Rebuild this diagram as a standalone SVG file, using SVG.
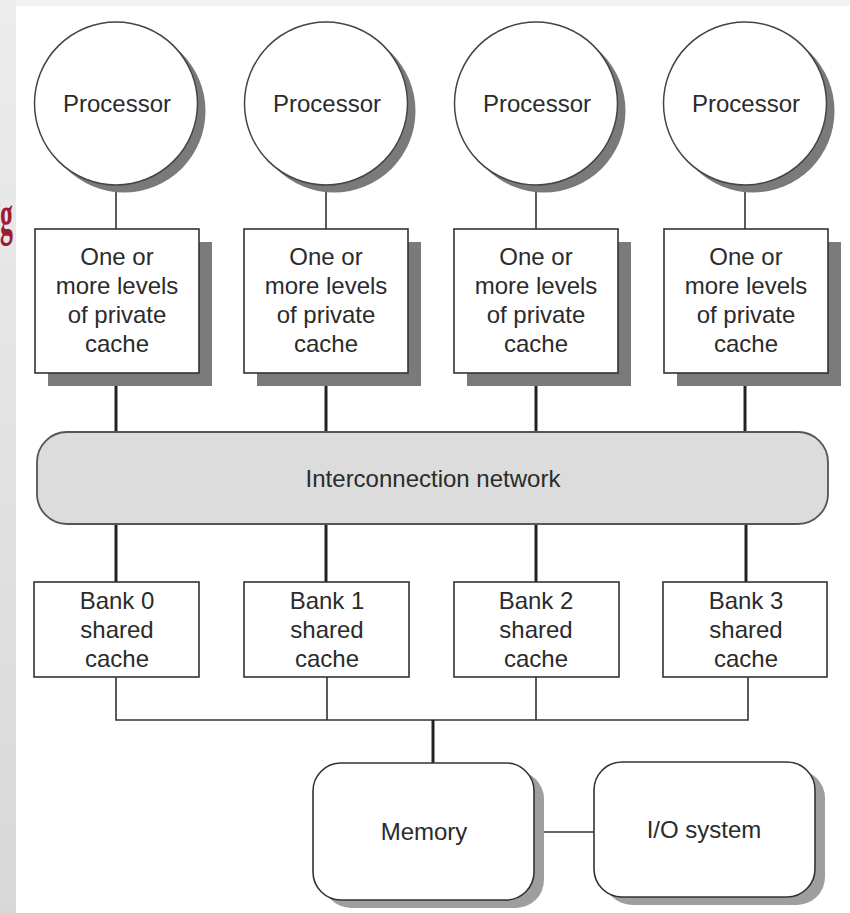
<svg xmlns="http://www.w3.org/2000/svg" width="850" height="913" viewBox="0 0 850 913">
  <defs>
    <linearGradient id="sideGrad" x1="0" y1="0" x2="0" y2="1">
      <stop offset="0" stop-color="#ececec"/>
      <stop offset="1" stop-color="#d8d8d8"/>
    </linearGradient>
  </defs>
  <style>
    .lbl { font-family: "Liberation Sans", Arial, Helvetica, sans-serif; font-size: 24px; fill: #2b2b2b; text-anchor: middle; }
    .box { fill: #ffffff; stroke: #333333; stroke-width: 1.6; }
    .circ { fill: #ffffff; stroke: #444444; stroke-width: 1.5; }
    .shadow-dark { fill: #7a7a7a; }
    .shadow-light { fill: #9e9e9e; }
    .net { fill: #dcdcdc; stroke: #555555; stroke-width: 1.8; }
    .thick { stroke: #222222; stroke-width: 3; fill: none; }
    .thin { stroke: #333333; stroke-width: 1.6; fill: none; }
  </style>

  <!-- page background -->
  <rect x="0" y="0" width="850" height="913" fill="#ffffff"/>
  <rect x="0" y="0" width="850" height="6" fill="#f2f2f2"/>
  <rect x="0" y="0" width="16" height="913" fill="url(#sideGrad)"/>
  <text transform="translate(0 234) scale(0.46 1)" x="0" y="0" font-family="Liberation Serif, Times New Roman, serif" font-size="56" font-weight="bold" fill="#9e1b32">g</text>

  <!-- connectors -->
  <g id="connectors">
    <!-- processor to private cache -->
    <line class="thin" x1="116" y1="185" x2="116" y2="229"/>
    <line class="thin" x1="326" y1="185" x2="326" y2="229"/>
    <line class="thin" x1="536" y1="185" x2="536" y2="229"/>
    <line class="thin" x1="745" y1="185" x2="745" y2="229"/>
    <!-- private cache to interconnection network -->
    <line class="thick" x1="116" y1="373" x2="116" y2="432"/>
    <line class="thick" x1="326" y1="373" x2="326" y2="432"/>
    <line class="thick" x1="536" y1="373" x2="536" y2="432"/>
    <line class="thick" x1="745" y1="373" x2="745" y2="432"/>
    <!-- interconnection network to shared cache banks -->
    <line class="thick" x1="116" y1="524" x2="116" y2="582"/>
    <line class="thick" x1="326" y1="524" x2="326" y2="582"/>
    <line class="thick" x1="536" y1="524" x2="536" y2="582"/>
    <line class="thick" x1="746" y1="524" x2="746" y2="582"/>
    <!-- banks to memory bus -->
    <path class="thin" d="M116 677 V720 H748 V677 M327 677 V720 M536 677 V720"/>
    <line class="thick" x1="433" y1="720" x2="433" y2="763"/>
    <!-- memory to I/O -->
    <line class="thin" x1="534" y1="832" x2="594" y2="832"/>
  </g>

  <!-- processors -->
  <g id="proc0">
    <circle class="shadow-dark" cx="124" cy="111" r="81.5"/>
    <circle class="circ" cx="116" cy="103.5" r="81.5"/>
    <text class="lbl" x="117" y="112">Processor</text>
  </g>
  <g id="proc1">
    <circle class="shadow-dark" cx="334" cy="111" r="81.5"/>
    <circle class="circ" cx="326" cy="103.5" r="81.5"/>
    <text class="lbl" x="327" y="112">Processor</text>
  </g>
  <g id="proc2">
    <circle class="shadow-dark" cx="544" cy="111" r="81.5"/>
    <circle class="circ" cx="536" cy="103.5" r="81.5"/>
    <text class="lbl" x="537" y="112">Processor</text>
  </g>
  <g id="proc3">
    <circle class="shadow-dark" cx="753" cy="111" r="81.5"/>
    <circle class="circ" cx="745" cy="103.5" r="81.5"/>
    <text class="lbl" x="746" y="112">Processor</text>
  </g>

  <!-- private caches -->
  <g id="pcache0">
    <rect class="shadow-dark" x="48" y="242" width="164" height="144"/>
    <rect class="box" x="35" y="229" width="164" height="144"/>
    <text class="lbl" x="117" y="265">One or</text>
    <text class="lbl" x="117" y="294">more levels</text>
    <text class="lbl" x="117" y="323">of private</text>
    <text class="lbl" x="117" y="352">cache</text>
  </g>
  <g id="pcache1">
    <rect class="shadow-dark" x="257" y="242" width="164" height="144"/>
    <rect class="box" x="244" y="229" width="164" height="144"/>
    <text class="lbl" x="326" y="265">One or</text>
    <text class="lbl" x="326" y="294">more levels</text>
    <text class="lbl" x="326" y="323">of private</text>
    <text class="lbl" x="326" y="352">cache</text>
  </g>
  <g id="pcache2">
    <rect class="shadow-dark" x="467" y="242" width="164" height="144"/>
    <rect class="box" x="454" y="229" width="164" height="144"/>
    <text class="lbl" x="536" y="265">One or</text>
    <text class="lbl" x="536" y="294">more levels</text>
    <text class="lbl" x="536" y="323">of private</text>
    <text class="lbl" x="536" y="352">cache</text>
  </g>
  <g id="pcache3">
    <rect class="shadow-dark" x="677" y="242" width="164" height="144"/>
    <rect class="box" x="664" y="229" width="164" height="144"/>
    <text class="lbl" x="746" y="265">One or</text>
    <text class="lbl" x="746" y="294">more levels</text>
    <text class="lbl" x="746" y="323">of private</text>
    <text class="lbl" x="746" y="352">cache</text>
  </g>

  <!-- interconnection network -->
  <g id="network">
    <rect class="net" x="37" y="432" width="791" height="92" rx="30" ry="30"/>
    <text class="lbl" x="433" y="487">Interconnection network</text>
  </g>

  <!-- shared cache banks -->
  <g id="bank0">
    <rect class="box" x="34" y="582" width="165" height="95"/>
    <text class="lbl" x="117" y="609">Bank 0</text>
    <text class="lbl" x="117" y="638">shared</text>
    <text class="lbl" x="117" y="667">cache</text>
  </g>
  <g id="bank1">
    <rect class="box" x="244" y="582" width="165" height="95"/>
    <text class="lbl" x="327" y="609">Bank 1</text>
    <text class="lbl" x="327" y="638">shared</text>
    <text class="lbl" x="327" y="667">cache</text>
  </g>
  <g id="bank2">
    <rect class="box" x="454" y="582" width="165" height="95"/>
    <text class="lbl" x="536" y="609">Bank 2</text>
    <text class="lbl" x="536" y="638">shared</text>
    <text class="lbl" x="536" y="667">cache</text>
  </g>
  <g id="bank3">
    <rect class="box" x="663" y="582" width="164" height="95"/>
    <text class="lbl" x="746" y="609">Bank 3</text>
    <text class="lbl" x="746" y="638">shared</text>
    <text class="lbl" x="746" y="667">cache</text>
  </g>

  <!-- memory and I/O -->
  <g id="memory">
    <rect class="shadow-light" x="323" y="771" width="221" height="137" rx="28" ry="28"/>
    <rect class="box" x="313" y="763" width="221" height="137" rx="28" ry="28"/>
    <text class="lbl" x="424" y="840">Memory</text>
  </g>
  <g id="io">
    <rect class="shadow-light" x="604" y="770" width="221" height="135" rx="28" ry="28"/>
    <rect class="box" x="594" y="762" width="221" height="135" rx="28" ry="28"/>
    <text class="lbl" x="704" y="838">I/O system</text>
  </g>
</svg>
